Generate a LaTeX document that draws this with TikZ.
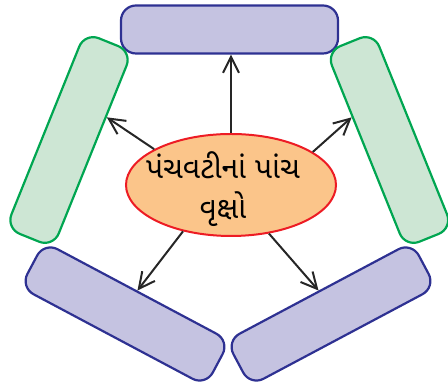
\documentclass[tikz,border=0pt]{standalone}
\usepackage{fontspec}
\newfontfamily\gujfont[Script=Gujarati]{Noto Sans Gujarati UI}
\usetikzlibrary{arrows.meta,shapes.geometric,calc}
\definecolor{lilafill}{HTML}{C5C3E1}
\definecolor{lilaline}{HTML}{2E3192}
\definecolor{harafill}{HTML}{CDE6D4}
\definecolor{haraline}{HTML}{00A651}
\definecolor{narangi}{HTML}{FBC58A}
\definecolor{lalline}{HTML}{ED1C24}

\begin{document}
\begin{tikzpicture}[
    x=1pt, y=1pt,
    >={Straight Barb[length=16pt,width=16pt]},
    lilabox/.style={
        draw=lilaline,
        fill=lilafill,
        line width=2.2pt,
        rounded corners=15pt,
        minimum height=51pt,
        inner sep=0pt
    },
    harabox/.style={
        draw=haraline,
        fill=harafill,
        line width=2.2pt,
        rounded corners=15pt,
        minimum height=51pt,
        inner sep=0pt
    },
    kendra/.style={
        ellipse,
        draw=lalline,
        fill=narangi,
        line width=2pt,
        inner sep=0pt
    },
    tir/.style={
        ->,
        line width=2pt,
        black!85
    }
]
\useasboundingbox (0,0) rectangle (448,390);

% ---------------- KHANA ----------------

% upar
\node[lilabox, minimum width=217pt, minimum height=48pt] (upar) at (229.5,360.5) {};

% daabi baju
\node[harabox, minimum width=211pt, rotate=68] (daabi) at (69,250) {};

% jamni baju
\node[harabox, minimum width=211pt, rotate=-68] (jamni) at (389.5,250) {};

% niche daabi
\node[lilabox, minimum width=210pt, rotate=-28] (nichedaabi) at (125,76) {};

% niche jamni
\node[lilabox, minimum width=210pt, rotate=28] (nichejamni) at (331,76) {};


% ---------------- KENDRA ----------------

\node[
    kendra,
    minimum width=210pt,
    minimum height=102pt,
    font=\gujfont\fontsize{30}{40}\selectfont
] (pv) at (231,205)
    {\makebox[0pt]{\raisebox{-11.5pt}[0pt][0pt]{%
        \begin{tabular}{@{}c@{}}પંચવટીનાં પાંચ\\વૃક્ષો\end{tabular}}%
     \hspace*{16pt}}};


% ---------------- TIR ----------------

\draw[tir] (pv.north) -- (pv.north |- upar.south);
\draw[tir] (pv.155) -- ($(daabi.south)!0.33!(daabi.south east)$);
\draw[tir] (pv.22) -- ($(jamni.south)!0.33!(jamni.south west)$);
\draw[tir] (pv.224) -- (nichedaabi.north);
\draw[tir] (pv.308) -- (nichejamni.north);

\end{tikzpicture}
\end{document}
